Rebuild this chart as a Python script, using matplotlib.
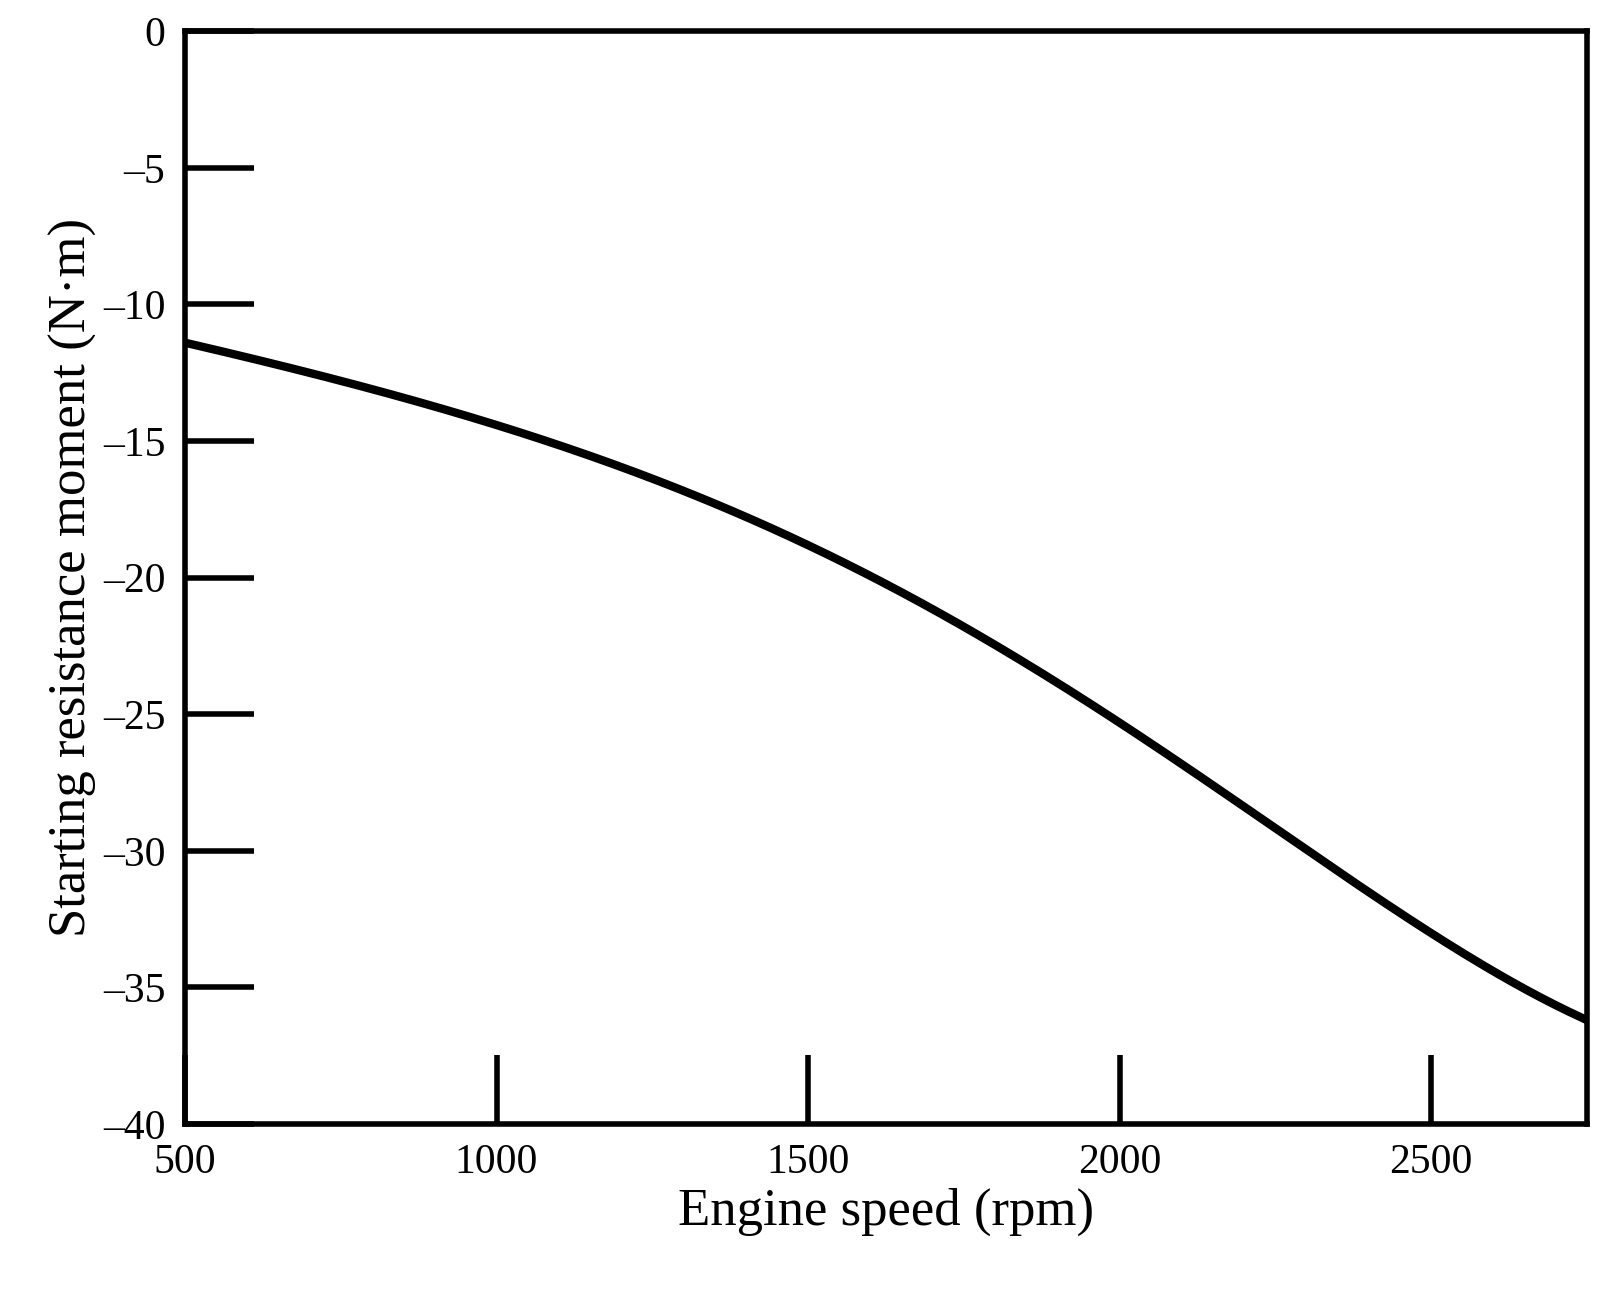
import numpy as np
import matplotlib.pyplot as plt

speed = [500, 750, 1000, 1250, 1500, 1750, 2000, 2250, 2500, 2750]
moment = [-11.4, -12.8, -14.4, -16.4, -18.8, -21.8, -25.3, -29.2, -33.0, -36.2]
xticks = [500, 1000, 1500, 2000, 2500]
yticks = [0, -5, -10, -15, -20, -25, -30, -35, -40]

plt.rcParams['font.family'] = ['Liberation Serif', 'DejaVu Serif']

fig = plt.figure(figsize=(16.08, 13.01), dpi=100)
ax = fig.add_axes([0.115, 0.136, 0.872, 0.840])

xs = np.linspace(500, 2750, 300)
# smooth through the read points
coef = np.polyfit(speed, moment, 5)
ax.plot(xs, np.polyval(coef, xs), color='black', linewidth=6)

ax.set_xlim(500, 2750)
ax.set_ylim(-40, 0)
ax.set_xticks(xticks)
ax.set_yticks(yticks)
ax.set_yticklabels([str(t).replace('-', '\u2013') for t in yticks])
ax.tick_params(direction='in', length=50, width=4, labelsize=30, pad=14)
for s in ax.spines.values():
    s.set_linewidth(4)

ax.set_xlabel('Engine speed (rpm)', fontsize=38)
ax.set_ylabel('Starting resistance moment (N\u00b7m)', fontsize=38)

fig.savefig('out.png')
